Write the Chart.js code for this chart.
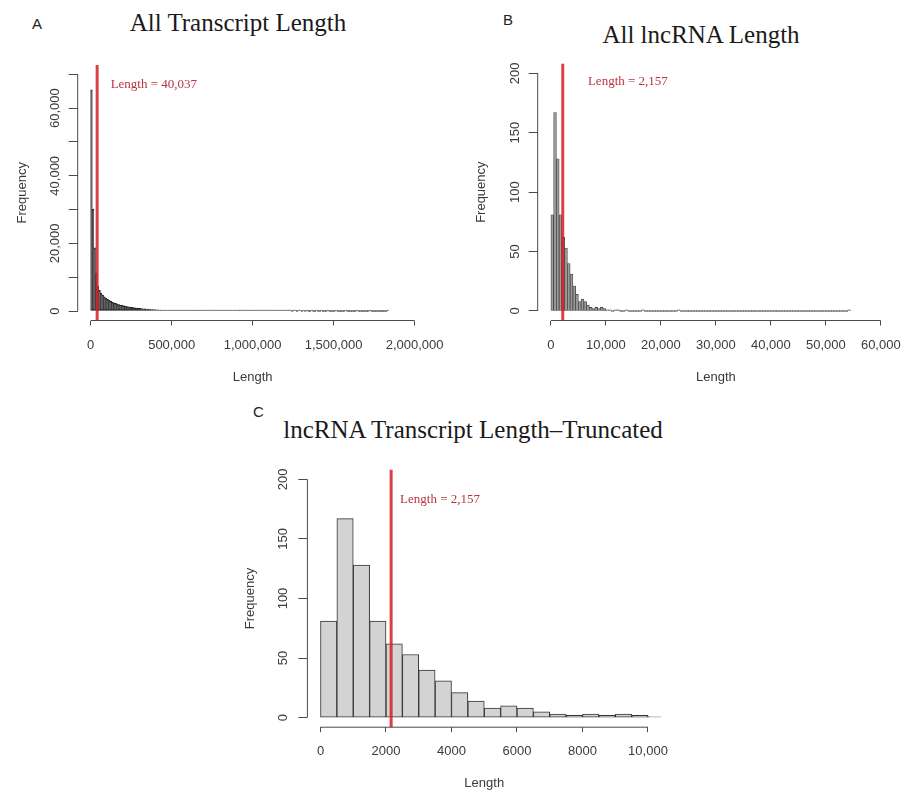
<!DOCTYPE html>
<html>
<head>
<meta charset="utf-8">
<script src="https://cdn.jsdelivr.net/npm/chart.js@4.4.1/dist/chart.umd.min.js"></script>
<style>
  body { margin: 0; background: #fff; }
  #page { position: relative; width: 913px; height: 793px; overflow: hidden; background: #fff; }
  canvas { position: absolute; }
  .title {
    position: absolute; width: 460px; text-align: center; white-space: nowrap;
    font-family: "Liberation Serif", "Times New Roman", serif; font-size: 25px; line-height: 25px; color: #1a1a1a;
  }
  .panel {
    position: absolute; font-family: "Liberation Sans", Arial, sans-serif;
    font-size: 15px; line-height: 15px; color: #222;
  }
</style>
</head>
<body>
<div id="page">
  <div class="panel" style="left:32px;top:16px">A</div>
  <div class="title" style="left:8px;top:10px">All Transcript Length</div>
  <canvas id="chartA" width="456" height="400" style="left:0;top:0"></canvas>

  <div class="panel" style="left:503px;top:12px">B</div>
  <div class="title" style="left:471px;top:22px">All lncRNA Length</div>
  <canvas id="chartB" width="457" height="400" style="left:456px;top:0"></canvas>

  <div class="panel" style="left:253px;top:404px">C</div>
  <div class="title" style="left:243px;top:417px">lncRNA Transcript Length–Truncated</div>
  <canvas id="chartC" width="440" height="393" style="left:240px;top:400px"></canvas>
</div>
<script>
// A: every transcript, bins of 10,000
const binWidthA = 10000;
const countsA = [
  65400, 30100, 18700, 11200, 7200, 6100, 5300, 4700, 4200, 3800,
  3450, 3150, 2880, 2640, 2430, 2250, 2080, 1930, 1790, 1660,
  1540, 1430, 1330, 1240, 1160, 1080, 1010, 940, 880, 820,
  770, 720, 670, 625, 580, 540, 500, 465, 430, 400,
  370, 340, 315, 290, 270, 250, 230, 212, 196, 182,
  168, 156, 145, 135, 125, 116, 108, 100, 93, 86,
  80, 74, 69, 64, 59, 55, 51, 47, 44, 41,
  38, 35, 33, 30, 28, 26, 24, 22, 21, 19,
  18, 17, 15, 14, 13, 12, 11, 11, 10, 9,
  9, 8, 8, 7, 7, 6, 6, 5, 5, 5,
  4, 4, 4, 4, 3, 3, 3, 3, 3, 2,
  2, 2, 2, 2, 2, 2, 1, 1, 1, 2,
  1, 1, 1, 1, 0, 1, 1, 0, 1, 1,
  0, 1, 0, 1, 0, 0, 1, 0, 0, 1,
  0, 0, 1, 0, 0, 0, 1, 0, 0, 0,
  0, 1, 0, 0, 0, 0, 0, 1, 0, 0,
  0, 0, 0, 0, 1, 0, 0, 0, 0, 0,
  0, 0, 1, 0, 0, 0, 0, 0, 0, 0,
  0, 0, 0, 1
];
const meanA = 40037;
const xTicksA = [0, 500000, 1000000, 1500000, 2000000];
const xLabelsA = ['0', '500,000', '1,000,000', '1,500,000', '2,000,000'];
const yTicksA = [0, 10000, 20000, 30000, 40000, 50000, 60000, 70000];
const yLabelsA = ['0', '', '20,000', '', '40,000', '', '60,000', ''];
const noteA = [390000, 67000];

// B: lncRNAs only, bins of 500
const binWidthB = 500;
const countsB = [
  81, 167, 128, 81, 62, 53, 40, 31, 21, 14,
  8, 10, 8, 5, 3, 2, 3, 2, 3, 2,
  1, 1, 0, 1, 1, 0, 0, 1, 0, 0,
  0, 0, 0, 1, 0, 0, 0, 0, 0, 0,
  0, 0, 0, 0, 0, 0, 1, 0, 0, 0,
  0, 0, 0, 0, 0, 0, 0, 0, 0, 0,
  0, 0, 0, 0, 0, 0, 0, 0, 0, 0,
  0, 0, 0, 0, 0, 0, 0, 0, 0, 0,
  0, 0, 0, 0, 0, 0, 0, 0, 0, 0,
  0, 0, 0, 0, 0, 0, 0, 0, 0, 0,
  0, 0, 0, 0, 0, 0, 0, 0, 1
];
const meanB = 2157;
const xTicksB = [0, 10000, 20000, 30000, 40000, 50000, 60000];
const xLabelsB = ['0', '10,000', '20,000', '30,000', '40,000', '50,000', '60,000'];
const yTicksB = [0, 50, 100, 150, 200];
const yLabelsB = ['0', '50', '100', '150', '200'];
const noteB = [14000, 193];

// C: same lncRNAs, first 21 bins only
const countsC = countsB.slice(0, 21);
const xTicksC = [0, 2000, 4000, 6000, 8000, 10000];
const xLabelsC = ['0', '2000', '4000', '6000', '8000', '10,000'];
const noteC = [3650, 183];

const SANS = '"Liberation Sans", Arial, sans-serif';
const SERIF = '"Liberation Serif", "Times New Roman", serif';
const AXIS = '#4a4a4a';
const TEXT = '#3a3a3a';
const RED = 'rgba(212, 30, 36, 0.85)';

Chart.defaults.font.family = SANS;

function toBars(counts, width) {
  return counts.map((n, i) => ({ x: i * width + width / 2, y: n }));
}

// R pads each axis by 4% of the range
function padRange(ticks) {
  const lo = ticks[0];
  const hi = ticks[ticks.length - 1];
  const d = (hi - lo) * 0.04;
  return [lo - d, hi + d];
}

// axis lines that stop at the outer ticks, and y labels turned sideways
const rAxes = {
  id: 'rAxes',
  afterDraw(chart, args, opts) {
    const { ctx, chartArea, scales: { x, y } } = chart;
    const xs = x.ticks.map(t => x.getPixelForValue(t.value));
    const ys = y.ticks.map(t => y.getPixelForValue(t.value));

    ctx.save();
    ctx.strokeStyle = AXIS;
    ctx.lineWidth = 1;
    ctx.beginPath();
    ctx.moveTo(xs[0], chartArea.bottom);
    ctx.lineTo(xs[xs.length - 1], chartArea.bottom);
    ctx.moveTo(chartArea.left, ys[0]);
    ctx.lineTo(chartArea.left, ys[ys.length - 1]);
    ctx.stroke();

    ctx.fillStyle = TEXT;
    ctx.font = '13px ' + SANS;
    ctx.textAlign = 'center';
    ctx.textBaseline = 'middle';
    opts.yLabels.forEach((label, i) => {
      if (!label) return;
      ctx.save();
      ctx.translate(chartArea.left - opts.labelGap, ys[i]);
      ctx.rotate(-Math.PI / 2);
      ctx.fillText(label, 0, 0);
      ctx.restore();
    });
    ctx.restore();
  }
};

const meanLine = {
  id: 'meanLine',
  afterDatasetsDraw(chart, args, opts) {
    const { ctx, chartArea, scales: { x, y } } = chart;
    const px = x.getPixelForValue(opts.value);

    ctx.save();
    ctx.strokeStyle = RED;
    ctx.lineWidth = 3;
    ctx.beginPath();
    ctx.moveTo(px, chartArea.top);
    ctx.lineTo(px, chartArea.bottom);
    ctx.stroke();

    ctx.fillStyle = '#b8343f';
    ctx.font = '13px ' + SERIF;
    ctx.textAlign = 'center';
    ctx.textBaseline = 'middle';
    ctx.fillText(opts.text, x.getPixelForValue(opts.at[0]), y.getPixelForValue(opts.at[1]));
    ctx.restore();
  }
};

function drawHistogram(id, h) {
  const [xMin, xMax] = padRange(h.xTicks);
  const [yMin, yMax] = padRange(h.yTicks);

  return new Chart(document.getElementById(id), {
    type: 'bar',
    data: {
      datasets: [{
        data: toBars(h.counts, h.binWidth),
        backgroundColor: h.fill,
        borderColor: h.edge,
        borderWidth: h.edgeWidth,
        borderSkipped: false,
        minBarLength: 1,
        barPercentage: 1,
        categoryPercentage: 1,
        clip: 0
      }]
    },
    options: {
      responsive: false,
      animation: false,
      events: [],
      layout: { padding: h.padding },
      plugins: {
        legend: { display: false },
        tooltip: { enabled: false },
        rAxes: { yLabels: h.yLabels, labelGap: h.yLabelGap },
        meanLine: { value: h.mean, text: h.note, at: h.noteAt }
      },
      scales: {
        x: {
          type: 'linear',
          min: xMin,
          max: xMax,
          offset: false,
          bounds: 'data',
          afterBuildTicks: s => { s.ticks = h.xTicks.map(v => ({ value: v })); },
          afterFit: s => { s.height = h.xHeight; },
          grid: { offset: false, drawOnChartArea: false, tickLength: 5, color: AXIS },
          border: { display: false },
          ticks: {
            autoSkip: false,
            maxRotation: 0,
            minRotation: 0,
            padding: h.xTickPad,
            color: TEXT,
            font: { size: 13 },
            callback: (v, i) => h.xLabels[i]
          },
          title: {
            display: true,
            text: 'Length',
            color: TEXT,
            font: { size: 13 },
            padding: { top: 0, bottom: h.xTitlePad }
          }
        },
        y: {
          type: 'linear',
          min: yMin,
          max: yMax,
          bounds: 'data',
          afterBuildTicks: s => { s.ticks = h.yTicks.map(v => ({ value: v })); },
          afterFit: s => { s.width = h.yWidth; },
          grid: { drawOnChartArea: false, tickLength: 9, color: AXIS },
          border: { display: false },
          ticks: { display: false },
          title: {
            display: true,
            text: 'Frequency',
            color: TEXT,
            font: { size: 13 },
            padding: { top: h.yTitlePad, bottom: 0 }
          }
        }
      }
    },
    plugins: [rAxes, meanLine]
  });
}

drawHistogram('chartA', {
  counts: countsA, binWidth: binWidthA, mean: meanA,
  note: 'Length = 40,037', noteAt: noteA,
  xTicks: xTicksA, xLabels: xLabelsA, yTicks: yTicksA, yLabels: yLabelsA,
  fill: '#3a3a3a', edge: '#262626', edgeWidth: 1,
  padding: { left: 5, top: 64.9, right: 20.2, bottom: 0 },
  yWidth: 72.7, xHeight: 79.5, yTitlePad: 9.9, xTitlePad: 14.7, xTickPad: 11.7, yLabelGap: 22.7
});

drawHistogram('chartB', {
  counts: countsB, binWidth: binWidthB, mean: meanB,
  note: 'Length = 2,157', noteAt: noteB,
  xTicks: xTicksB, xLabels: xLabelsB, yTicks: yTicksB, yLabels: yLabelsB,
  fill: '#9c9c9c', edge: '#444444', edgeWidth: 0.8,
  padding: { left: 5, top: 63.8, right: 17.1, bottom: 0 },
  yWidth: 76.7, xHeight: 79.5, yTitlePad: 12.9, xTitlePad: 14.7, xTickPad: 11.7, yLabelGap: 22.7
});

drawHistogram('chartC', {
  counts: countsC, binWidth: binWidthB, mean: meanB,
  note: 'Length = 2,157', noteAt: noteC,
  xTicks: xTicksC, xLabels: xLabelsC, yTicks: yTicksB, yLabels: yLabelsB,
  fill: '#d3d3d3', edge: '#333333', edgeWidth: 1,
  padding: { left: 0, top: 69.8, right: 14.4, bottom: 0 },
  yWidth: 67.4, xHeight: 65.8, yTitlePad: 2.2, xTitlePad: 1.4, xTickPad: 11.6, yLabelGap: 24
});
</script>
</body>
</html>
